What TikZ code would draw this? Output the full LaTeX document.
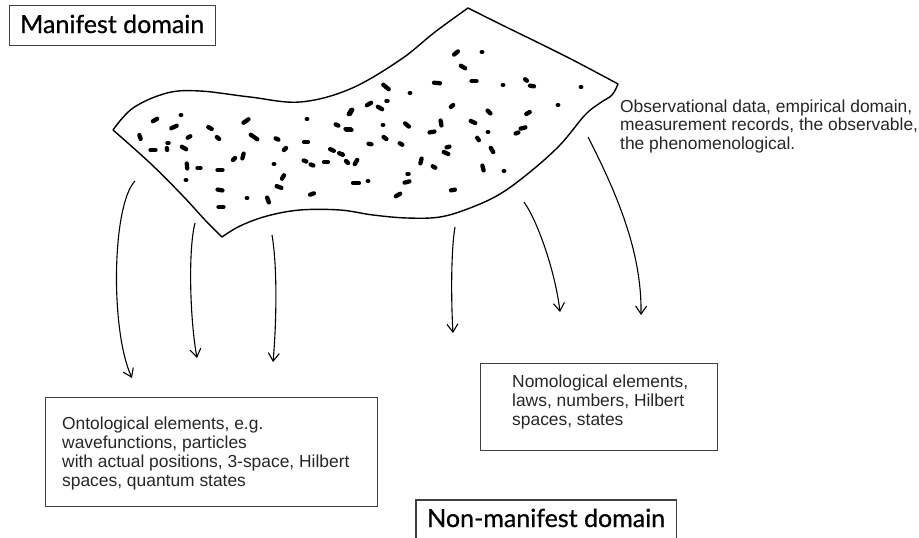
\documentclass[tikz,border=0pt]{standalone}
\usepackage{fontspec}
\setmainfont{Liberation Sans}
\newfontfamily\titlefont[FakeBold=0.7]{Lato}
\usetikzlibrary{arrows.meta}
\begin{document}
\begin{tikzpicture}[x=1pt,y=-1pt,
  outline/.style={line width=1.4pt, line join=round},
  flow/.style={line width=1.1pt, -{Straight Barb[length=8pt,width=11pt,line width=1.1pt]}},
  frame/.style={draw=black!75, line width=1.1pt, inner sep=0pt},
  titletext/.style={font=\titlefont\fontsize{25}{30}\selectfont, inner sep=0pt},
  bodytext/.style={font=\fontsize{17.4}{19.2}\selectfont, text=black!85, align=left, inner sep=0pt},
  speck/.style={line width=4.3pt, line cap=round}
]
\useasboundingbox (0,0) rectangle (919,538);

% the sheet of observations
\draw[outline]
  plot[smooth, tension=0.6] coordinates {(113,130) (133,108) (167,93) (200,91) (250,97) (300,102) (350,89) (400,60) (435,32) (468,8)}
  -- plot[smooth, tension=0.6] coordinates {(468,8) (500,24) (567,57) (618,84)}
  -- plot[smooth, tension=0.6] coordinates {(618,84) (612,95) (600,103) (585,115) (560,145) (530,172) (500,194) (470,208) (440,217) (407,218) (373,215) (340,210) (300,210) (267,216) (240,226) (222,237)}
  -- plot[smooth, tension=0.6] coordinates {(222,237) (205,220) (183,196) (150,163) (113,130)};

% specks scattered over the sheet: x / y / angle / half length
\foreach \x/\y/\a/\l in {
  155/120/-30/2.5, 181/115/0/0.3, 174/127/-25/3, 140/137/70/2, 189/137/-30/1.5,
  210/128/30/2, 218/138/40/1.5, 246/121/-35/3, 254/137/35/4, 168/143/0/0.6,
  153/150/0/2.5, 167/149/80/1, 184/148/30/2.5, 277/139/25/1.5, 285/149/-45/1.5,
  307/119/0/0.3, 306/142/0/2, 337/125/25/1.5, 349/130/0/2.5, 350/112/-60/2.5,
  332/150/25/2, 341/154/25/2, 305/161/20/1.5, 312/165/20/1.5, 326/162/0/2,
  347/162/45/1.5, 356/162/-60/2.5, 234/159/-45/1.5, 243/156/-75/2.5, 187/166/85/2.5,
  199/168/0/1.5, 220/170/0/2.5, 274/164/0/0.3, 283/177/-60/2, 186/180/0/0.3,
  220/190/10/2.5, 279/187/20/2.5, 356/183/0/3, 247/198/0/0.3, 268/200/70/2.5,
  312/194/-20/2, 221/207/0/2.5,
  456/53/-40/2.5, 482/52/0/0.3, 463/67/30/2.5, 437/83/5/3, 474/81/0/2.5,
  503/85/0/0.3, 526/80/40/1.2, 532/86/10/2, 581/87/0/0.3, 386/87/40/3.5,
  410/93/0/0.3, 369/104/-30/2.5, 380/108/30/2.5, 387/101/0/0.6, 351/112/-60/2.5,
  452/106/-40/1.5, 489/112/45/2, 528/113/-30/2, 558/105/0/0.3, 348/129/0/2.5,
  383/125/0/0.3, 407/125/40/2.5, 441/123/80/2.5, 432/132/-10/2.5, 473/122/25/2.5,
  488/132/0/0.3, 523/128/-15/2.5, 517/133/-20/1.5, 385/138/35/1.8, 370/144/10/1.5,
  401/144/30/1.5, 478/139/55/1.5, 448/147/-15/1.5, 446/153/25/2.5, 492/150/60/2.5,
  342/154/0/0.3, 421/161/-75/2.5, 434/167/30/1.5, 483/168/75/2.5, 504/171/0/0.3,
  408/174/0/0.6, 407/182/-15/2.5, 368/181/0/0.3, 453/190/-10/2, 398/195/-30/2.5}
  \draw[speck] (\x,\y) ++(\a:-\l) -- ++(\a:2*\l);

% arrow ends
\coordinate (s1) at (135,181); \coordinate (e1) at (132,378);
\coordinate (s2) at (195,223); \coordinate (e2) at (197,358);
\coordinate (s3) at (272,235); \coordinate (e3) at (273,362);
\coordinate (s4) at (455,227); \coordinate (e4) at (453,333);
\coordinate (s5) at (524,202); \coordinate (e5) at (560,312);
\coordinate (s6) at (588,137); \coordinate (e6) at (641,315);

\draw[flow] (s1) .. controls (112,205) and (110,330) .. (e1);
\draw[flow] (s2) .. controls (188,250) and (190,320) .. (e2);
\draw[flow] (s3) .. controls (278,270) and (276,330) .. (e3);
\draw[flow] (s4) .. controls (451,250) and (451,300) .. (e4);
\draw[flow] (s5) .. controls (537,220) and (555,270) .. (e5);
\draw[flow] (s6) .. controls (615,190) and (642,250) .. (e6);

% titles
\node[frame, minimum width=206pt, minimum height=40pt, anchor=north west] (manbox) at (9,5) {};
\node[titletext, anchor=base west] (mantitle) at (20,33) {Manifest domain};
\node[titletext, anchor=base west] (nontitle) at (427,527) {Non-manifest domain};
\draw[frame] (416,545) |- ([xshift=11pt]nontitle.east |- 0,500) -- ++(0,45);

% descriptions
\node[bodytext, anchor=north west, font=\fontsize{17.4}{18.5}\selectfont] (obs) at (620,99.5)
  {Observational data, empirical domain,\\measurement records, the observable,\\the phenomenological.};

\node[frame, minimum width=332pt, minimum height=109pt, anchor=north west] (ontobox) at (45,397) {};
\node[bodytext, anchor=north west] (onto) at (62,416.5)
  {Ontological elements, e.g.\\wavefunctions, particles\\with actual positions, 3-space, Hilbert\\spaces, quantum states};

\node[frame, minimum width=237pt, minimum height=87pt, anchor=north west] (nomobox) at (480,363) {};
\node[bodytext, anchor=north west] (nomo) at (512,374.5)
  {Nomological elements,\\laws, numbers, Hilbert\\spaces, states};
\end{tikzpicture}
\end{document}
